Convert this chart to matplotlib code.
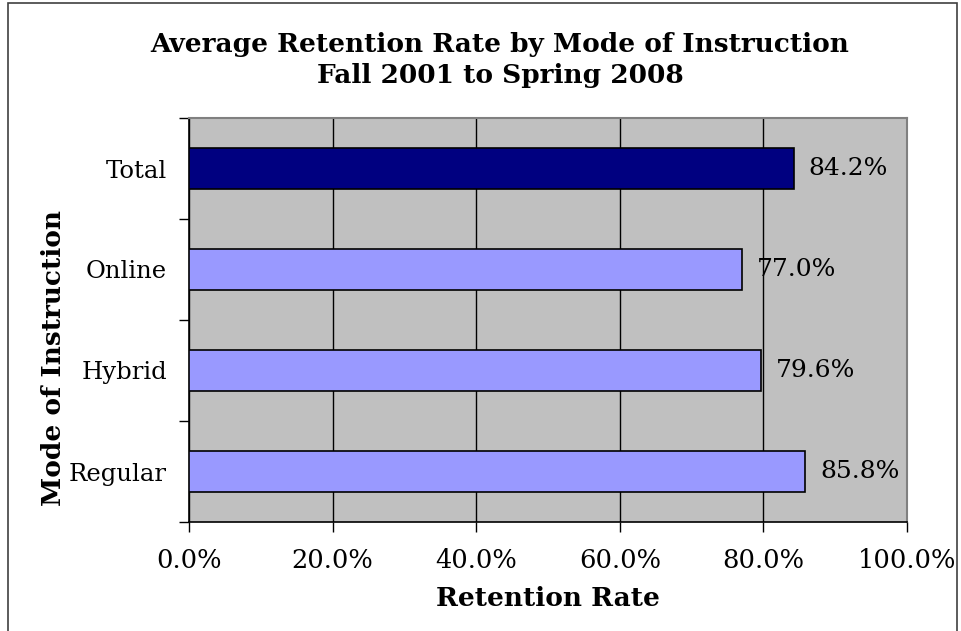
import matplotlib.pyplot as plt
from matplotlib.patches import Rectangle
from matplotlib.ticker import FuncFormatter

plt.rcParams['font.family'] = ['DejaVu Serif']

# data
modes = ['Regular', 'Hybrid', 'Online', 'Total']
rates = [85.8, 79.6, 77.0, 84.2]
colors = ['#9999FF', '#9999FF', '#9999FF', '#000080']

fig = plt.figure(figsize=(9.62, 6.31), dpi=100)
W, H = 962, 631
ax = fig.add_axes([189 / W, 1 - 522 / H, 718 / W, 404 / H])
ax.set_facecolor('#C0C0C0')

bars = ax.barh(modes, rates, height=0.4, color=colors, edgecolor='black', linewidth=1.2, zorder=3)
for b, v in zip(bars, rates):
    ax.text(v + 2.1, b.get_y() + b.get_height() / 2, f'{v:.1f}%', va='center', ha='left',
            fontsize=18, zorder=4)

ax.set_xlim(0, 100)
ax.set_ylim(-0.5, 3.5)
ax.set_xticks([0, 20, 40, 60, 80, 100])
ax.xaxis.set_major_formatter(FuncFormatter(lambda x, p: f'{x:.1f}%'))
ax.set_yticks([-0.5, 0.5, 1.5, 2.5, 3.5])
ax.set_yticklabels([])
ax.set_yticks([0, 1, 2, 3], minor=True)
ax.set_yticklabels(modes, minor=True)
ax.tick_params(axis='y', which='minor', length=0, labelsize=17.5, pad=16)
ax.tick_params(axis='y', which='major', length=7, direction='out', width=1)
ax.tick_params(axis='x', length=7, direction='out', width=1, labelsize=18.5, pad=12)
ax.grid(axis='x', color='black', linewidth=1, zorder=1)

for s in ['top', 'right']:
    ax.spines[s].set_color('#808080')
    ax.spines[s].set_linewidth(1.5)
for s in ['left', 'bottom']:
    ax.spines[s].set_color('black')
    ax.spines[s].set_linewidth(1.2)

fig.text(500 / W, 1 - 60 / H, 'Average Retention Rate by Mode of Instruction\nFall 2001 to Spring 2008',
         ha='center', va='center', fontsize=19, fontweight='bold', linespacing=1.3)
fig.text(548 / W, 1 - 598 / H, 'Retention Rate', ha='center', va='center',
         fontsize=19, fontweight='bold')
fig.text(54 / W, 1 - 358 / H, 'Mode of Instruction', ha='center', va='center',
         rotation=90, fontsize=19, fontweight='bold')

fig.add_artist(Rectangle((8 / W, -0.1), (957 - 8) / W, 1.1 - 3 / H, transform=fig.transFigure,
                         fill=False, edgecolor='#404040', linewidth=1.2))

fig.savefig('out.png', dpi=100)
